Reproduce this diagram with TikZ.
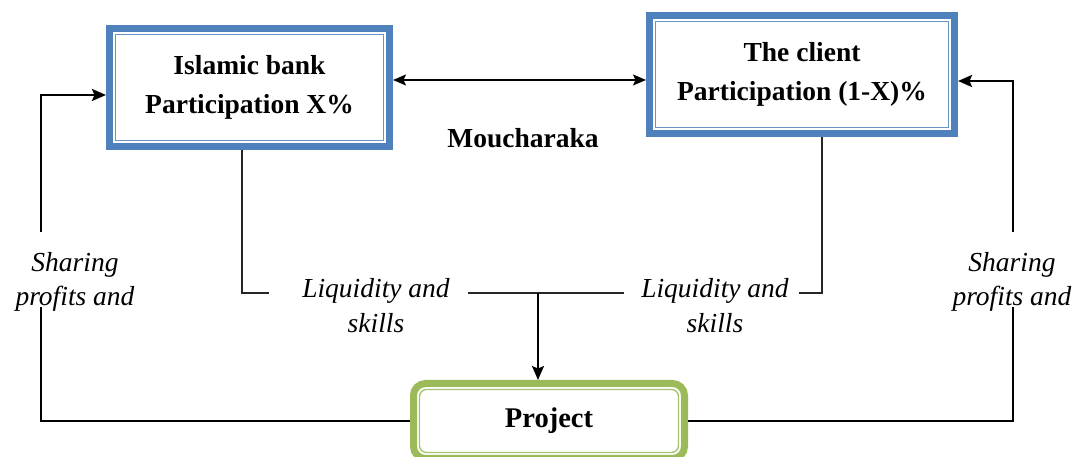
\documentclass[tikz,border=0pt]{standalone}
\usepackage{fontspec}
\setmainfont{Liberation Serif}
\newfontfamily\timesfont{Liberation Serif}
\usepackage{xcolor}
\usetikzlibrary{arrows.meta,positioning}
\definecolor{bankblue}{RGB}{79,129,189}
\definecolor{projgreen}{RGB}{155,187,89}

\begin{document}
\begin{tikzpicture}[x=1pt, y=1pt,
      party/.style={draw=bankblue, line width=7pt, fill=white,
                  minimum width=280pt, minimum height=118pt,
                  font=\timesfont\fontsize{27.5}{39}\selectfont\bfseries, align=center},
      proj/.style={draw=projgreen, line width=7pt, fill=white, rounded corners=12pt,
                  minimum width=271pt, minimum height=75pt,
                  font=\timesfont\fontsize{28.5}{34}\selectfont\bfseries, align=center},
      lbl/.style={inner sep=0pt,
                  font=\timesfont\fontsize{27.5}{34.5}\selectfont\itshape, align=center},
      arr/.style={-{Stealth[length=14pt, width=12pt, inset=2.5pt]}, line width=2.5pt},
      biarr/.style={{Stealth[length=13pt, width=11pt, inset=2.5pt]}-{Stealth[length=13pt, width=11pt, inset=2.5pt]}, line width=1.6pt},
      link/.style={line width=1.4pt, color=black!85}
  ]
    \useasboundingbox (0,0) rectangle (1077,457);

    \node[party] (bank) at (249.5,369.5) {Islamic bank\\ Participation X\%};
    \node[party, minimum width=305pt] (client) at (802,382.5) {The client\\ Participation (1-X)\%};
    \node[proj] (project) at (549,36) {Project};

    % inner frames
    \foreach \n in {bank,client}
      \draw[bankblue!85, line width=1.3pt] ([shift={(9.5,-9.5)}]\n.north west) rectangle ([shift={(-9.5,9.5)}]\n.south east);
    \draw[projgreen!90, line width=1.3pt, rounded corners=7pt] ([shift={(9.5,-9.5)}]project.north west) rectangle ([shift={(-9.5,9.5)}]project.south east);

    \draw[biarr] ([yshift=7.5pt]bank.east) -- ([yshift=-5.5pt]client.west);
    \node[font=\timesfont\fontsize{27.5}{33}\selectfont\bfseries] (mouch) at (523,319) {Moucharaka};

    % contributions
    \node[lbl] (liqbank) at (376,151.5) {Liquidity and\\ skills};
    \node[lbl] (liqclient) at (715,151.5) {Liquidity and\\ skills};
    \coordinate (jbank) at (242,164);
    \coordinate (jmid) at (538,164);
    \coordinate (jclient) at (822,164);
    \draw[link] (bank.south -| jbank) |- ([xshift=-33pt]liqbank.west |- jbank);
    \draw[link] ([xshift=18pt]liqbank.east |- jbank) -- ([xshift=-17pt]liqclient.west |- jbank);
    \draw[link] ([xshift=10pt]liqclient.east |- jclient) -| (client.south -| jclient);
    \draw[arr, line width=1.8pt] (jmid) -- (project.north -| jmid);

    % profit sharing
    \node[lbl] (sharel) at (75,175) {Sharing\\ profits and};
    \node[lbl] (sharer) at (1012,175) {Sharing\\ profits and};
    \coordinate (lx) at (41,0);
    \coordinate (rx) at (1013,0);
    \draw[arr] ([yshift=20pt]sharel.north -| lx) |- ([yshift=-7.5pt]bank.west);
    \draw[line width=2.5pt] (project.west) -| ([yshift=5pt]sharel.south -| lx);
    \draw[arr] ([yshift=20pt]sharer.north -| rx) |- ([yshift=-6.5pt]client.east);
    \draw[line width=2.5pt] (project.east) -| ([yshift=5pt]sharer.south -| rx);
  \end{tikzpicture}
\end{document}
